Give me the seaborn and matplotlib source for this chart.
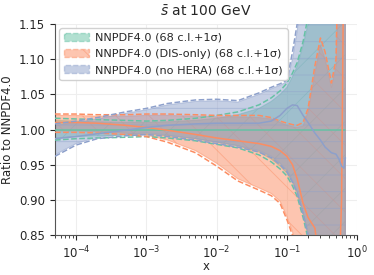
import numpy as np
import pandas as pd
import matplotlib
matplotlib.use("Agg")
import matplotlib.pyplot as plt
import matplotlib.patches as mpatches
import seaborn as sns

# x grid and ratio values
x = [5e-5, 1e-4, 2e-4, 5e-4, 1e-3, 2e-3, 5e-3, 1e-2, 2e-2, 4e-2, 6e-2, 8e-2, 0.1,
     0.12, 0.14, 0.17, 0.2, 0.25, 0.3, 0.35, 0.43, 0.5, 0.55, 0.6, 0.65, 0.68]

# NNPDF4.0 (baseline)
base_cv = [1.0] * 26
base_up68 = [1.013, 1.012, 1.011, 1.010, 1.010, 1.011, 1.013, 1.016, 1.021, 1.030, 1.040, 1.050, 1.060,
             1.075, 1.090, 1.120, 1.150, 1.250, 1.400, 1.500, 1.600, 1.700, 1.800, 1.900, 2.000, 2.000]
base_lo68 = [0.988, 0.990, 0.991, 0.992, 0.993, 0.991, 0.987, 0.982, 0.977, 0.968, 0.958, 0.948, 0.938,
             0.925, 0.910, 0.880, 0.850, 0.780, 0.700, 0.600, 0.500, 0.400, 0.300, 0.200, 0.100, 0.100]
base_up1s = [1.016, 1.015, 1.014, 1.013, 1.012, 1.013, 1.016, 1.020, 1.025, 1.035, 1.045, 1.055, 1.066,
             1.080, 1.095, 1.125, 1.160, 1.260, 1.420, 1.520, 1.620, 1.720, 1.820, 1.920, 2.020, 2.020]
base_lo1s = [0.985, 0.987, 0.988, 0.989, 0.990, 0.988, 0.984, 0.979, 0.974, 0.964, 0.954, 0.944, 0.934,
             0.920, 0.905, 0.875, 0.845, 0.770, 0.690, 0.590, 0.490, 0.390, 0.290, 0.190, 0.090, 0.090]

# NNPDF4.0 (DIS-only)
dis_cv = [1.010, 1.010, 1.009, 1.006, 1.003, 0.999, 0.993, 0.988, 0.984, 0.980, 0.976, 0.970, 0.962,
          0.950, 0.930, 0.895, 0.875, 0.860, 0.800, 0.760, 0.740, 0.760, 0.780, 0.900, 1.300, 1.500]
dis_up68 = [1.020, 1.020, 1.019, 1.019, 1.020, 1.020, 1.019, 1.018, 1.018, 1.017, 1.015, 1.010, 1.006,
            1.004, 1.003, 1.005, 1.025, 1.080, 1.120, 1.100, 1.060, 1.090, 1.250, 1.600, 2.000, 2.000]
dis_lo68 = [0.998, 0.998, 0.997, 0.995, 0.992, 0.985, 0.970, 0.952, 0.930, 0.917, 0.909, 0.898, 0.876,
            0.855, 0.825, 0.790, 0.700, 0.600, 0.500, 0.500, 0.500, 0.500, 0.500, 0.500, 0.500, 0.500]
dis_up1s = [1.022, 1.022, 1.021, 1.021, 1.022, 1.022, 1.021, 1.020, 1.020, 1.020, 1.017, 1.012, 1.009,
            1.007, 1.006, 1.010, 1.030, 1.090, 1.130, 1.110, 1.066, 1.100, 1.300, 1.650, 2.050, 2.050]
dis_lo1s = [0.996, 0.996, 0.995, 0.993, 0.990, 0.982, 0.967, 0.948, 0.927, 0.914, 0.906, 0.895, 0.872,
            0.850, 0.820, 0.780, 0.690, 0.590, 0.490, 0.490, 0.490, 0.490, 0.490, 0.490, 0.490, 0.490]

# NNPDF4.0 (no HERA)
nohera_cv = [0.987, 0.990, 0.994, 0.999, 1.003, 1.006, 1.008, 1.009, 1.009, 1.009, 1.012, 1.020, 1.030,
             1.035, 1.034, 1.020, 1.010, 0.995, 0.985, 0.975, 0.967, 0.965, 0.958, 0.948, 0.945, 0.960]
nohera_up68 = [1.006, 1.010, 1.015, 1.023, 1.028, 1.035, 1.040, 1.041, 1.039, 1.050, 1.058, 1.063, 1.068,
               1.100, 1.140, 1.210, 1.290, 1.400, 1.500, 1.600, 1.700, 1.800, 1.900, 2.000, 2.000, 2.000]
nohera_lo68 = [0.964, 0.980, 0.989, 0.993, 0.995, 0.992, 0.987, 0.982, 0.977, 0.970, 0.962, 0.952, 0.942,
               0.927, 0.912, 0.882, 0.852, 0.780, 0.700, 0.600, 0.500, 0.400, 0.300, 0.200, 0.100, 0.100]
nohera_up1s = [1.008, 1.012, 1.017, 1.025, 1.030, 1.037, 1.042, 1.043, 1.041, 1.052, 1.060, 1.065, 1.070,
               1.110, 1.150, 1.220, 1.300, 1.410, 1.510, 1.610, 1.710, 1.810, 1.910, 2.010, 2.010, 2.010]
nohera_lo1s = [0.962, 0.978, 0.987, 0.991, 0.993, 0.990, 0.985, 0.980, 0.975, 0.968, 0.960, 0.950, 0.940,
               0.925, 0.910, 0.880, 0.850, 0.780, 0.700, 0.600, 0.500, 0.400, 0.300, 0.200, 0.100, 0.100]

labels = ["NNPDF4.0 (68 c.l.+1σ)", "NNPDF4.0 (DIS-only) (68 c.l.+1σ)", "NNPDF4.0 (no HERA) (68 c.l.+1σ)"]
colors = ["#66c2a5", "#fc8d62", "#8da0cb"]
hatches = ["/", "\\", "-"]

sets = [
    (base_cv, base_lo68, base_up68, base_lo1s, base_up1s),
    (dis_cv, dis_lo68, dis_up68, dis_lo1s, dis_up1s),
    (nohera_cv, nohera_lo68, nohera_up68, nohera_lo1s, nohera_up1s),
]

# %%
sns.set_style("ticks", {"axes.grid": True, "grid.color": "#eeeeee"})
plt.rcParams["font.family"] = ["DejaVu Sans"]
plt.rcParams["hatch.linewidth"] = 0.6

fig, ax = plt.subplots(figsize=(3.74, 2.75), dpi=100)
fig.subplots_adjust(left=0.147, right=0.955, top=0.913, bottom=0.145)

handles = []
for (cv, lo68, up68, lo1s, up1s), lab, col, h in zip(sets, labels, colors, hatches):
    df = pd.DataFrame({"x": x, "cv": cv})
    ax.fill_between(x, lo68, up68, facecolor=col, edgecolor=col, alpha=0.5, hatch=h,
                    linewidth=0.8, zorder=2)
    sns.lineplot(data=df, x="x", y="cv", color=col, lw=1.1, ax=ax, zorder=3)
    ax.plot(x, up1s, color=col, ls="--", lw=1.1, zorder=3)
    ax.plot(x, lo1s, color=col, ls="--", lw=1.1, zorder=3)
    handles.append(mpatches.Patch(facecolor=col, edgecolor=col, alpha=0.5, hatch=h,
                                  linestyle="--", linewidth=1.0, label=lab))

ax.set_xscale("log")
ax.set_xlim(5e-5, 1)
ax.set_ylim(0.85, 1.15)
ax.set_yticks([0.85, 0.90, 0.95, 1.00, 1.05, 1.10, 1.15])
ax.tick_params(labelsize=8.5, length=3.5)
ax.tick_params(which="minor", length=2)
ax.set_xlabel("x", fontsize=8.5, labelpad=-1)
ax.set_ylabel("Ratio to NNPDF4.0", fontsize=8.5)
ax.set_title(r"$\bar{s}$ at 100 GeV", fontsize=10)
for s in ["left", "bottom"]:
    ax.spines[s].set_color("#555555")
sns.despine(ax=ax)

ax.legend(handles=handles, loc="upper left", fontsize=8.1, framealpha=0.9,
          borderaxespad=0.4, handlelength=2.2, labelspacing=0.55, handletextpad=0.6)

fig.savefig("out.png", dpi=100)
